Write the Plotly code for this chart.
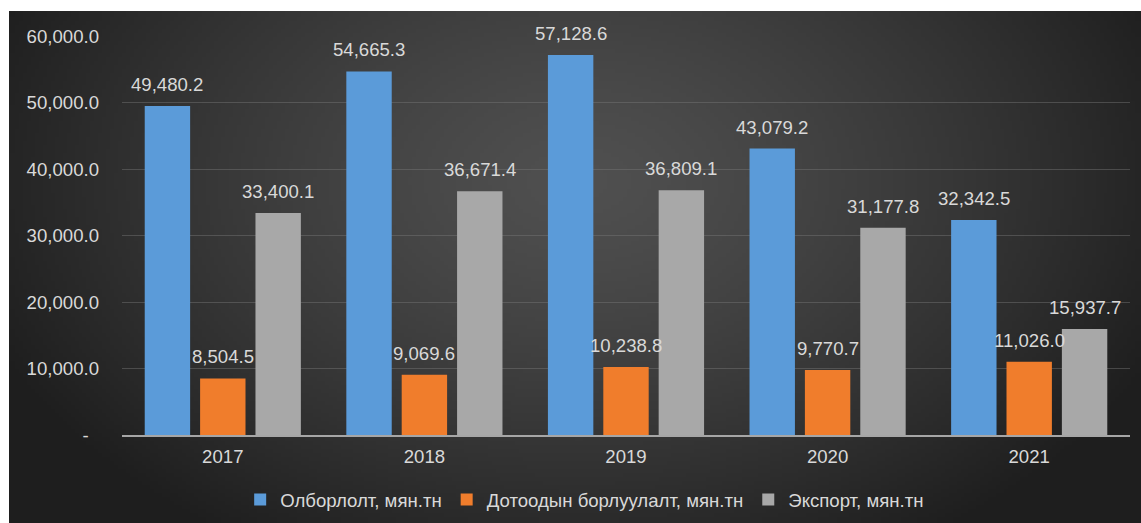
import base64
import struct
import zlib

import numpy as np
import plotly.graph_objects as go

# ---- data -------------------------------------------------------------
years = ["2017", "2018", "2019", "2020", "2021"]
extraction = [49480.2, 54665.3, 57128.6, 43079.2, 32342.5]
domestic_sales = [8504.5, 9069.6, 10238.8, 9770.7, 11026.0]
exports = [33400.1, 36671.4, 36809.1, 31177.8, 15937.7]

series_names = ["Олборлолт, мян.тн", "Дотоодын борлуулалт, мян.тн", "Экспорт, мян.тн"]
series_colors = ["#5b9bd9", "#f07d2c", "#a8a8a8"]

y_tick_values = [0, 10000, 20000, 30000, 40000, 50000, 60000]
y_tick_labels = ["-\u00a0\u00a0", "10,000.0", "20,000.0", "30,000.0",
                 "40,000.0", "50,000.0", "60,000.0"]

# ---- page geometry (px) ----------------------------------------------
W, H = 1141, 523
ML, MR, MT, MB = 122, 11, 36, 88
PW, PH = W - ML - MR, H - MT - MB
PANEL_X0, PANEL_Y0 = 9, 11
BARGAP, BARGROUPGAP = 0.176, 0.18


def px_to_paper_x(px):
    return (px - ML) / PW


def px_to_paper_y(py):
    return (H - MB - py) / PH


# ---- radial dark background as an inline PNG --------------------------
def radial_panel_png(w, h):
    xs = (np.arange(w) + 0.5) / w * (W - PANEL_X0)
    ys = (np.arange(h) + 0.5) / h * (H - PANEL_Y0)
    gx, gy = np.meshgrid(xs, ys)
    d = np.sqrt(((gx - 570) / 640) ** 2 + ((gy - 170) / 430) ** 2)
    d = np.clip(d, 0, 1) ** 1.3
    v = 80 + (30 - 80) * d
    img = np.stack([v, v, v], axis=-1).astype(np.uint8)
    raw = b"".join(b"\x00" + img[r].tobytes() for r in range(h))

    def chunk(tag, data):
        c = struct.pack(">I", len(data)) + tag + data
        return c + struct.pack(">I", zlib.crc32(tag + data) & 0xFFFFFFFF)

    png = b"\x89PNG\r\n\x1a\n"
    png += chunk(b"IHDR", struct.pack(">IIBBBBB", w, h, 8, 2, 0, 0, 0))
    png += chunk(b"IDAT", zlib.compress(raw, 9))
    png += chunk(b"IEND", b"")
    return "data:image/png;base64," + base64.b64encode(png).decode()


FONT = "Liberation Sans, Arial, sans-serif"
TEXT_COLOR = "#d9d9d9"
FS = 18.6

fig = go.Figure()
all_series = [extraction, domestic_sales, exports]
for name, vals, color in zip(series_names, all_series, series_colors):
    fig.add_trace(go.Bar(
        x=years, y=vals, name=name,
        marker=dict(color=color, line=dict(width=0)),
    ))

# value labels above each bar, shifted to the bar's slot inside its group
slot_px = (PW / len(years)) * (1 - BARGAP) / len(all_series)
labels = []
for i, vals in enumerate(all_series):
    for j, v in enumerate(vals):
        labels.append(dict(
            x=j, y=v, xref="x", yref="y",
            text=f"{v:,.1f}", showarrow=False,
            xanchor="center", yanchor="bottom",
            xshift=(i - (len(all_series) - 1) / 2) * slot_px, yshift=9,
            font=dict(size=FS, color=TEXT_COLOR, family=FONT),
        ))

fig.update_layout(
    width=W, height=H,
    margin=dict(l=ML, r=MR, t=MT, b=MB, pad=0, autoexpand=False),
    paper_bgcolor="white",
    plot_bgcolor="rgba(0,0,0,0)",
    barmode="group",
    bargap=BARGAP,
    bargroupgap=BARGROUPGAP,
    font=dict(family=FONT, color=TEXT_COLOR),
    showlegend=True,
    legend=dict(
        orientation="h", x=0.459, xanchor="center",
        y=px_to_paper_y(481), yanchor="top",
        font=dict(size=FS, color=TEXT_COLOR, family=FONT),
        bgcolor="rgba(0,0,0,0)", itemwidth=30,
    ),
    annotations=labels,
    images=[dict(
        source=radial_panel_png(285, 128),
        xref="paper", yref="paper",
        x=px_to_paper_x(PANEL_X0), y=px_to_paper_y(PANEL_Y0),
        sizex=(W - PANEL_X0) / PW, sizey=(H - PANEL_Y0) / PH,
        xanchor="left", yanchor="top",
        sizing="stretch", layer="below",
    )],
    xaxis=dict(
        type="category", range=[-0.5, len(years) - 0.5],
        showgrid=False, showline=True, linecolor="#a6a6a6", linewidth=2,
        ticks="", ticklabelstandoff=4,
        tickfont=dict(size=FS, color=TEXT_COLOR, family=FONT),
    ),
    yaxis=dict(
        range=[0, 60000],
        tickvals=y_tick_values, ticktext=y_tick_labels,
        showgrid=True, gridcolor="rgba(120,120,120,0.45)", gridwidth=1,
        zeroline=False, showline=False, ticks="",
        ticklabelstandoff=22,
        tickfont=dict(size=FS, color=TEXT_COLOR, family=FONT),
    ),
)

fig.write_html("out.html")
